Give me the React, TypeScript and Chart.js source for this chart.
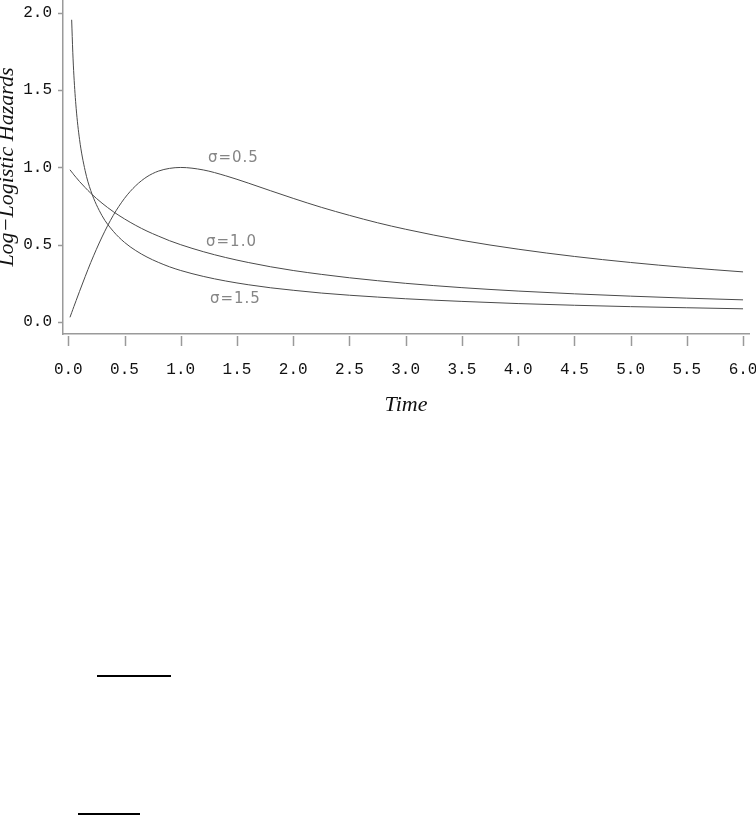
import React, { useEffect, useRef } from "react";
import { Chart, registerables } from "chart.js";

Chart.register(...registerables);

const TIME = [0.015, 0.03, 0.04, 0.05, 0.07, 0.1, 0.15, 0.2, 0.3, 0.4, 0.5, 0.6, 0.7, 0.8, 0.9, 1.0, 1.2, 1.4, 1.6, 1.8, 2.0, 2.25, 2.5, 2.75, 3.0, 3.5, 4.0, 4.5, 5.0, 5.5, 6.0];

const SIGMA_05 = [0.03, 0.06, 0.08, 0.1, 0.139, 0.198, 0.293, 0.385, 0.55, 0.69, 0.8, 0.882, 0.94, 0.976, 0.994, 1.0, 0.984, 0.946, 0.899, 0.849, 0.8, 0.742, 0.69, 0.642, 0.6, 0.528, 0.471, 0.424, 0.385, 0.352, 0.324];

const SIGMA_10 = [0.985, 0.971, 0.962, 0.952, 0.935, 0.909, 0.87, 0.833, 0.769, 0.714, 0.667, 0.625, 0.588, 0.556, 0.526, 0.5, 0.455, 0.417, 0.385, 0.357, 0.333, 0.308, 0.286, 0.267, 0.25, 0.222, 0.2, 0.182, 0.167, 0.154, 0.143];

const SIGMA_15 = [null, 1.956, 1.746, 1.593, 1.383, 1.182, 0.979, 0.85, 0.688, 0.587, 0.515, 0.462, 0.42, 0.386, 0.357, 0.333, 0.295, 0.265, 0.241, 0.221, 0.205, 0.187, 0.173, 0.161, 0.15, 0.133, 0.119, 0.108, 0.099, 0.092, 0.085];

const X_TICKS = [0, 0.5, 1, 1.5, 2, 2.5, 3, 3.5, 4, 4.5, 5, 5.5, 6];
const Y_TICKS = [0, 0.5, 1, 1.5, 2];

const CURVE_LABELS = ["σ=0.5", "σ=1.0", "σ=1.5"];
const CURVE_LABEL_X = [1.242, 1.225, 1.26];
const CURVE_LABEL_Y = [1.061, 0.518, 0.149];

const X_TITLE = "Time";
const Y_TITLE = "Log−Logistic Hazards";

const AXIS_COLOR = "#9a9a9a";
const CURVE_COLOR = "#4a4a4a";

function toPoints(values: (number | null)[]) {
  return TIME.map((t, i) => ({ x: t, y: values[i] })).filter((p) => p.y !== null);
}

const decorPlugin = {
  id: "decor",
  afterDraw(chart: any) {
    const ctx = chart.ctx;
    const xs = chart.scales.x;
    const ys = chart.scales.y;
    const area = chart.chartArea;
    ctx.save();
    ctx.strokeStyle = AXIS_COLOR;
    ctx.lineWidth = 1.5;
    X_TICKS.forEach((v) => {
      const px = Math.round(xs.getPixelForValue(v)) + 0.5;
      ctx.beginPath();
      ctx.moveTo(px, area.bottom + 2);
      ctx.lineTo(px, area.bottom + 12);
      ctx.stroke();
    });
    Y_TICKS.forEach((v) => {
      const py = Math.round(ys.getPixelForValue(v)) + 0.5;
      ctx.beginPath();
      ctx.moveTo(area.left - 5, py);
      ctx.lineTo(area.left, py);
      ctx.stroke();
    });

    // curve labels
    ctx.fillStyle = "#858585";
    ctx.font = "15px 'DejaVu Sans'";
    (ctx as any).letterSpacing = "1px";
    ctx.textAlign = "left";
    ctx.textBaseline = "middle";
    CURVE_LABELS.forEach((lab, i) => {
      ctx.fillText(lab, xs.getPixelForValue(CURVE_LABEL_X[i]), ys.getPixelForValue(CURVE_LABEL_Y[i]));
    });
    (ctx as any).letterSpacing = "0px";

    // titles
    ctx.fillStyle = "#111";
    ctx.font = "italic 22px 'Liberation Serif'";
    ctx.textAlign = "center";
    ctx.textBaseline = "alphabetic";
    ctx.fillText(X_TITLE, (area.left + area.right) / 2, area.bottom + 77);
    ctx.save();
    ctx.translate(13, (area.top + area.bottom) / 2);
    ctx.rotate(-Math.PI / 2);
    ctx.fillText(Y_TITLE, 0, 0);
    ctx.restore();
    ctx.restore();
  },
};

export default function App() {
  const ref = useRef<HTMLCanvasElement | null>(null);
  useEffect(() => {
    if (!ref.current) return;
    const ds = (label: string, vals: (number | null)[]) => ({
      label,
      data: toPoints(vals),
      borderColor: CURVE_COLOR,
      borderWidth: 1,
      pointRadius: 0,
      fill: false,
      cubicInterpolationMode: "monotone" as const,
    });
    const chart = new Chart(ref.current, {
      type: "line",
      data: {
        datasets: [ds("σ=0.5", SIGMA_05), ds("σ=1.0", SIGMA_10), ds("σ=1.5", SIGMA_15)],
      },
      options: {
        animation: false,
        responsive: false,
        layout: { padding: { top: 0, right: 7, left: 0, bottom: 0 } },
        plugins: { legend: { display: false }, tooltip: { enabled: false } },
        scales: {
          x: {
            type: "linear",
            min: -0.047,
            max: 6.053,
            afterBuildTicks: (s: any) => {
              s.ticks = X_TICKS.map((v) => ({ value: v }));
            },
            afterFit: (s: any) => {
              s.height = 86;
              s.paddingLeft = 0;
              s.paddingRight = 0;
              s.paddingTop = 0;
              s.paddingBottom = 0;
            },
            grid: { drawOnChartArea: false, drawTicks: false },
            border: { display: true, color: AXIS_COLOR, width: 1.5 },
            ticks: {
              padding: 26,
              color: "#111",
              font: { family: "'Liberation Mono'", size: 16 },
              callback: (v: any) => Number(v).toFixed(1),
              maxRotation: 0,
              autoSkip: false,
            },
          },
          y: {
            type: "linear",
            min: -0.078,
            max: 2.084,
            afterBuildTicks: (s: any) => {
              s.ticks = Y_TICKS.map((v) => ({ value: v }));
            },
            afterFit: (s: any) => {
              s.width = 63;
              s.paddingLeft = 0;
              s.paddingRight = 0;
              s.paddingTop = 0;
              s.paddingBottom = 0;
            },
            grid: { drawOnChartArea: false, drawTicks: false },
            border: { display: true, color: AXIS_COLOR, width: 1.5 },
            ticks: {
              padding: 11,
              color: "#111",
              font: { family: "'Liberation Mono'", size: 16 },
              callback: (v: any) => Number(v).toFixed(1),
              autoSkip: false,
            },
          },
        },
      },
      plugins: [decorPlugin],
    });
    return () => chart.destroy();
  }, []);

  return (
    <div style={{ position: "absolute", left: 0, top: 0, width: 756, height: 824, background: "#fff" }}>
      <canvas ref={ref} width={756} height={420} style={{ display: "block" }} />
      <div style={{ position: "absolute", left: 97, top: 675, width: 74, height: 2, background: "#000" }} />
      <div style={{ position: "absolute", left: 78, top: 813, width: 62, height: 2, background: "#000" }} />
    </div>
  );
}
